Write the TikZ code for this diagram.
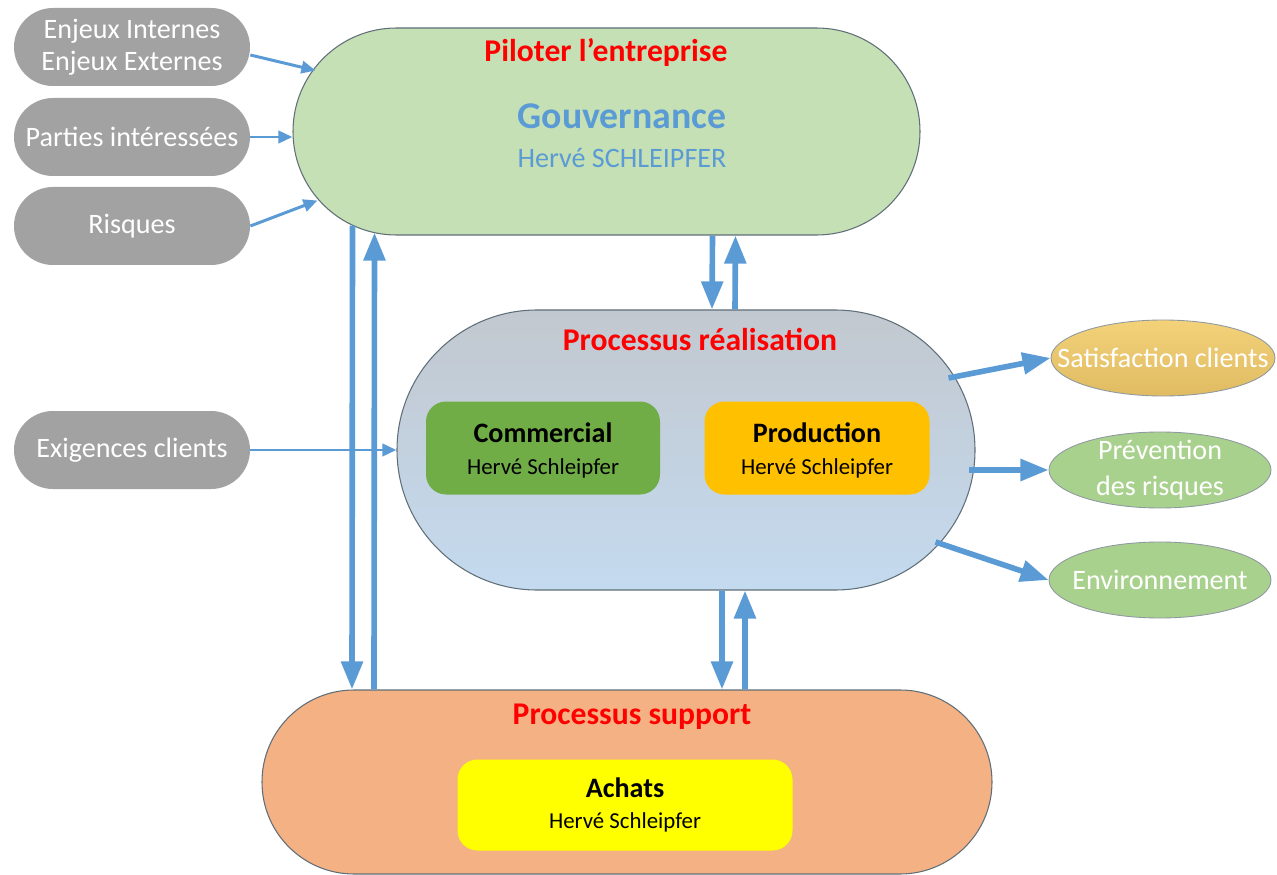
\documentclass[tikz,border=0pt]{standalone}
\usepackage{fontspec}
\setmainfont{Carlito}
\usetikzlibrary{calc,arrows.meta,shapes.geometric}
\definecolor{extgrey}{HTML}{A2A2A2}
\definecolor{pilotgreen}{HTML}{C5E0B4}
\definecolor{realtop}{HTML}{C2C8CF}
\definecolor{realbot}{HTML}{C4DAEF}
\definecolor{suppsalmon}{HTML}{F4B183}
\definecolor{commgreen}{HTML}{70AD47}
\definecolor{prodorange}{HTML}{FFC000}
\definecolor{achyellow}{HTML}{FFFF00}
\definecolor{outgreen}{HTML}{A9D18E}
\definecolor{satgoldtop}{HTML}{F3D27A}
\definecolor{satgoldbot}{HTML}{E0BB62}
\definecolor{arrblue}{HTML}{5B9BD5}
\definecolor{titred}{HTML}{FF0000}
\definecolor{outl}{HTML}{5F6E78}

\begin{document}
\begin{tikzpicture}[
        every node/.style={font=\fontsize{16}{18}\selectfont},
        ext/.style={
          fill=extgrey, text=white,
          rounded corners=0.78cm,
          minimum width=4.72cm, minimum height=1.56cm, align=center,
          inner sep=0pt,
        },
        proc/.style={
          draw=outl, line width=0.6pt,
          inner sep=0pt,
        },
        sub/.style={
          rounded corners=0.4cm, align=center,
          minimum height=1.86cm, inner sep=0pt,
          font=\fontsize{16}{20}\selectfont\bfseries,
        },
        res/.style={
          ellipse, draw=outl!70, line width=0.5pt,
          text=white, align=center, inner xsep=-16pt, inner ysep=-2.5pt,
          minimum width=4.44cm, minimum height=1.52cm,
        },
        ttl/.style={font=\fontsize{18}{20}\selectfont\bfseries, text=titred},
        arr/.style={draw=arrblue, line width=3.2pt,
          -{Triangle[width=12pt,length=16pt]}},
        thinarr/.style={draw=arrblue, line width=1.7pt,
          -{Triangle[width=7pt,length=8pt]}},
      ]
      \useasboundingbox (0,0) rectangle (25.54,17.48);

      % entrees
      \node[ext] (enj)  at (2.64,16.54) {Enjeux Internes\\Enjeux Externes};
      \node[ext] (part) at (2.64,14.74) {Parties intéressées};
      \node[ext] (risq) at (2.64,12.96) {Risques};
      \node[ext] (exig) at (2.64,8.48)  {Exigences clients};

      % processus
      \node[proc, fill=pilotgreen, rounded corners=2.07cm,
            minimum width=12.54cm, minimum height=4.14cm] (pilot) at (12.13,14.85) {};
      \node[proc, top color=realtop, bottom color=realbot, rounded corners=2.8cm,
            minimum width=11.56cm, minimum height=5.6cm] (real) at (13.72,8.48) {};
      \node[proc, fill=suppsalmon, rounded corners=1.84cm,
            minimum width=14.6cm, minimum height=3.68cm] (supp) at (12.54,1.84) {};

      \node[ttl] (pilotT) at (12.12,16.44) {Piloter l’entreprise};
      \node[text=arrblue, font=\fontsize{21.5}{24}\selectfont\bfseries] (gouv) at (12.44,15.16) {Gouvernance};
      \node[text=arrblue] (gouvN) at (12.44,14.32) {Hervé SCHLEIPFER};
      \node[ttl] (realT) at (14.0,10.7) {Processus réalisation};
      \node[ttl] (suppT) at (12.64,3.14) {Processus support};

      \node[sub, fill=commgreen, minimum width=4.68cm] (comm) at (10.86,8.52)
        {\rule{0pt}{14pt}Commercial\\[-2pt]{\fontsize{13}{15}\selectfont\mdseries Hervé Schleipfer}};
      \node[sub, fill=prodorange, minimum width=4.5cm] (prod) at (16.34,8.52)
        {\rule{0pt}{14pt}Production\\[-2pt]{\fontsize{13}{15}\selectfont\mdseries Hervé Schleipfer}};
      \node[sub, fill=achyellow, minimum width=6.7cm, minimum height=1.82cm] (ach) at (12.5,1.38)
        {Achats\\[-2pt]{\fontsize{13}{15}\selectfont\mdseries Hervé Schleipfer}};

      % resultats
      \node[res, top color=satgoldtop, bottom color=satgoldbot, minimum width=4.48cm] (sat) at (23.26,10.32) {Satisfaction clients};
      \node[res, fill=outgreen, font=\fontsize{16}{20}\selectfont] (prev) at (23.2,8.08) {Prévention\\des risques};
      \node[res, fill=outgreen] (env) at (23.2,5.88) {Environnement};

      \draw[thinarr] ([yshift=-0.16cm]enj.east) -- ($(pilot.west)+(0.46,1.22)$);
      \draw[thinarr] (part.east) -- (part.east -| pilot.west);
      \draw[thinarr] (risq.east) -- ($(pilot.west)+(0.5,-1.38)$);
      \draw[thinarr] (exig.east) -- (exig.east -| real.west);

      \draw[arr] ([xshift=-5.08cm,yshift=0.2cm]pilot.south) -- ([xshift=-5.5cm]supp.north);
      \draw[arr] ([xshift=-5.06cm]supp.north) -- ([xshift=-4.64cm,yshift=0.06cm]pilot.south);

      \draw[arr] ([xshift=2.12cm]pilot.south) -- ([xshift=0.52cm]real.north);
      \draw[arr] ([xshift=0.98cm]real.north) -- ([xshift=2.58cm]pilot.south);

      \draw[arr] ([xshift=0.72cm]real.south) -- ([xshift=1.9cm]supp.north);
      \draw[arr] ([xshift=2.36cm]supp.north) -- ([xshift=1.18cm]real.south);

      \draw[arr] ($(real.east)+(-0.54,1.44)$) -- (sat.west);
      \draw[arr] ($(real.east)+(-0.14,-0.4)$) -- (prev.west);
      \draw[arr] ($(real.east)+(-0.8,-1.84)$) -- (env.west);
    \end{tikzpicture}
\end{document}
